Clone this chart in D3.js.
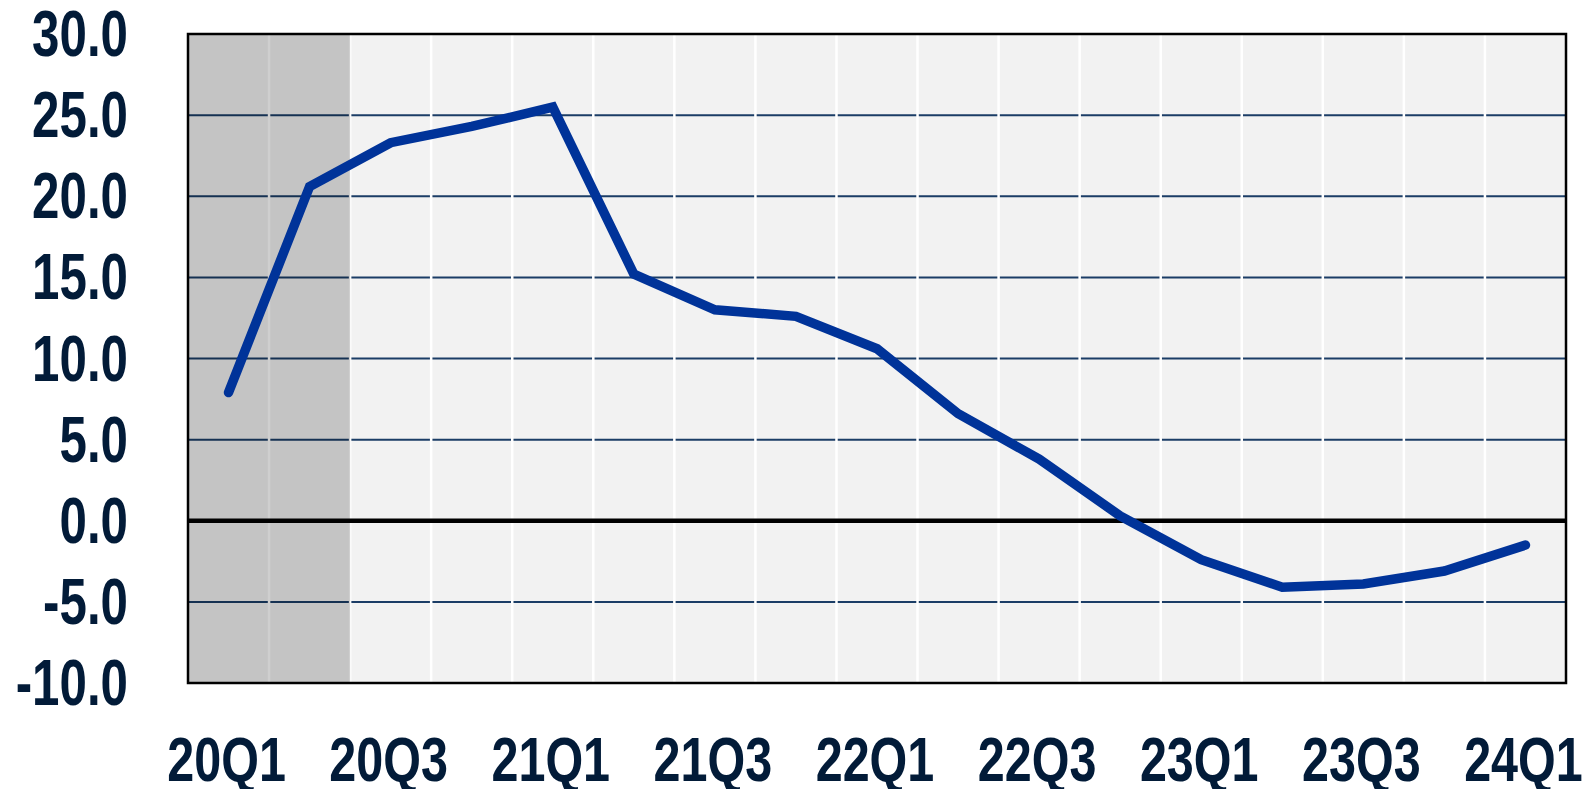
<!DOCTYPE html>
<html><head><meta charset="utf-8">
<script src="https://cdn.jsdelivr.net/npm/d3@7"></script>
<style>body{margin:0;background:#fff}svg{display:block}</style>
</head><body>
<svg id="c" width="1594" height="789"></svg>
<script>
const quarters = ["20Q1","20Q2","20Q3","20Q4","21Q1","21Q2","21Q3","21Q4","22Q1","22Q2","22Q3","22Q4","23Q1","23Q2","23Q3","23Q4","24Q1"];
const values = [7.9,20.6,23.3,24.3,25.5,15.2,13.0,12.6,10.6,6.6,3.8,0.3,-2.4,-4.1,-3.9,-3.1,-1.5];
const yTicks = [-10,-5,0,5,10,15,20,25,30];
const xTickLabels = ["20Q1","20Q3","21Q1","21Q3","22Q1","22Q3","23Q1","23Q3","24Q1"];
const shaded = ["20Q1","20Q2"];

const m = {l:188, r:1566, t:34, b:683};
const svg = d3.select("#c");
const x = d3.scaleBand().domain(quarters).range([m.l, m.r]).padding(0);
const y = d3.scaleLinear().domain([-10,30]).range([m.b, m.t]);
const txt = "#021b38";
const font = "'Liberation Sans', Arial, sans-serif";
const squeeze = 0.77;

svg.append("rect").attr("x",m.l).attr("y",m.t).attr("width",m.r-m.l).attr("height",m.b-m.t).attr("fill","#f2f2f2");

// horizontal gridlines
svg.append("g").selectAll("line").data(yTicks.filter(d=>d!==0 && d!==-10 && d!==30)).join("line")
  .attr("x1",m.l).attr("x2",m.r).attr("y1",d=>y(d)).attr("y2",d=>y(d))
  .attr("stroke","#1b3d66").attr("stroke-width",2);

// vertical white gridlines
svg.append("g").selectAll("line").data(quarters.slice(1)).join("line")
  .attr("x1",d=>x(d)).attr("x2",d=>x(d)).attr("y1",m.t).attr("y2",m.b)
  .attr("stroke","#ffffff").attr("stroke-width",2.5);

// shaded period
svg.append("rect").attr("x",x(shaded[0])).attr("y",m.t)
  .attr("width",x(shaded[shaded.length-1])+x.bandwidth()-x(shaded[0])).attr("height",m.b-m.t)
  .attr("fill","#000").attr("fill-opacity",0.19);

// zero line
svg.append("line").attr("x1",m.l).attr("x2",m.r).attr("y1",y(0)).attr("y2",y(0))
  .attr("stroke","#000").attr("stroke-width",4.5);

// data line
const line = d3.line().x((d,i)=>x(quarters[i])+x.bandwidth()/2).y(d=>y(d));
svg.append("path").datum(values).attr("d",line).attr("fill","none")
  .attr("stroke","#003399").attr("stroke-width",9.5).attr("stroke-linejoin","miter").attr("stroke-linecap","round");

// frame
svg.append("rect").attr("x",m.l).attr("y",m.t).attr("width",m.r-m.l).attr("height",m.b-m.t)
  .attr("fill","none").attr("stroke","#000").attr("stroke-width",2.5);

function squeezeText(sel){
  sel.each(function(){
    const w = this.getComputedTextLength();
    d3.select(this).attr("textLength", w*squeeze).attr("lengthAdjust","spacingAndGlyphs");
  });
}

// y axis labels
const fmt = d => d3.format(".1f")(d).replace("\u2212","-");
svg.append("g").selectAll("text").data(yTicks).join("text")
  .attr("x",128).attr("y",d=>y(d))
  .attr("text-anchor","end").attr("dominant-baseline","central")
  .attr("font-family",font).attr("font-weight","bold").attr("font-size",64).attr("fill",txt)
  .text(d=>fmt(d)).call(squeezeText);

// x axis labels
svg.append("g").selectAll("text").data(xTickLabels).join("text")
  .attr("x",d=>x(d)+x.bandwidth()/2-2).attr("y",759)
  .attr("text-anchor","middle").attr("dominant-baseline","central")
  .attr("font-family",font).attr("font-weight","bold").attr("font-size",63).attr("fill",txt)
  .text(d=>d).call(squeezeText);
</script>
</body></html>
